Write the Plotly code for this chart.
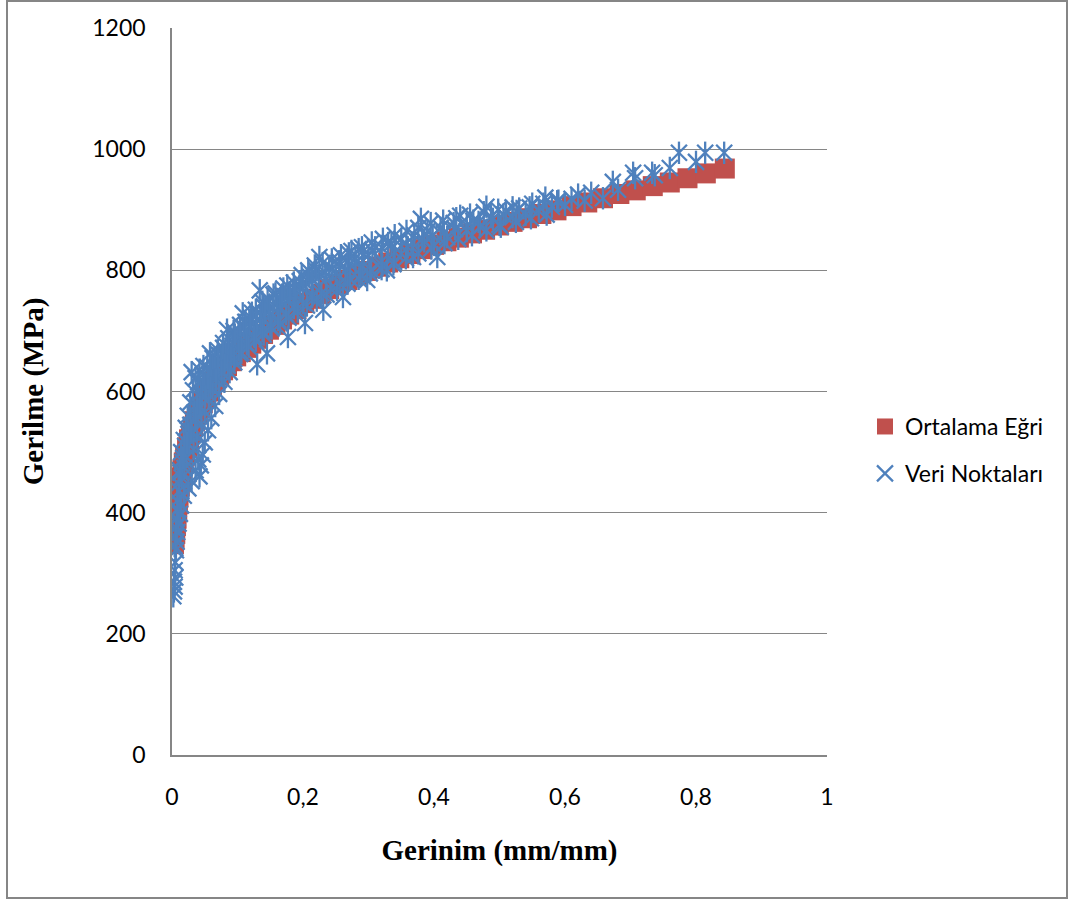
import plotly.graph_objects as go

# Ortalama Eğri (mean curve)
red_strain = [0.003,0.004,0.005,0.006,0.007,0.008,0.009,0.010,0.012,0.014,0.016,0.018,0.020,0.023,0.026,0.029,0.032,0.035,0.039,0.043,0.047,0.051,0.056,0.061,0.066,0.072,0.078,0.084,0.091,0.098,0.105,0.113,0.121,0.130,0.139,0.148,0.158,0.168,0.179,0.190,0.202,0.214,0.227,0.240,0.254,0.268,0.283,0.298,0.314,0.330,0.347,0.364,0.382,0.400,0.419,0.438,0.458,0.478,0.499,0.520,0.542,0.564,0.587,0.610,0.634,0.658,0.683,0.708,0.734,0.760,0.787,0.815,0.844]
red_stress = [348,356,365,378,390,402,414,425,443,458,471,483,494,508,521,532,542,551,562,572,581,590,600,609,617,626,635,642,650,658,665,672,679,687,695,702,710,719,727,736,746,753,761,769,777,784,792,799,806,813,820,827,835,842,848,854,861,867,874,880,886,893,899,906,912,919,926,932,939,945,952,960,968]

# Veri Noktaları (data points)
blue_strain = [0.002,0.003,0.004,0.003,0.005,0.004,0.005,0.006,0.004,0.007,0.005,0.008,0.006,0.010,0.007,0.012,0.009,0.014,0.008,0.018,
               0.011,0.025,0.010,0.030,0.015,0.042,0.013,0.036,0.019,0.044,0.016,0.040,0.022,0.047,0.014,0.033,0.026,0.050,0.018,0.038,
               0.030,0.055,0.021,0.045,0.035,0.060,0.024,0.050,0.040,0.066,0.028,0.056,0.046,0.072,0.032,0.062,0.052,0.080,0.036,0.030,
               0.042,0.068,0.058,0.088,0.048,0.075,0.058,0.065,0.095,0.070,0.083,0.104,0.078,0.092,0.084,0.100,0.115,0.094,0.108,0.110,
               0.125,0.118,0.130,0.122,0.134,0.136,0.145,0.140,0.150,0.155,0.160,0.165,0.170,0.177,0.178,0.185,0.190,0.195,0.200,0.203,
               0.210,0.215,0.220,0.225,0.231,0.235,0.240,0.250,0.255,0.261,0.265,0.270,0.280,0.285,0.290,0.298,0.300,0.310,0.320,0.328,
               0.330,0.340,0.350,0.360,0.368,0.370,0.380,0.385,0.390,0.400,0.405,0.410,0.420,0.430,0.440,0.450,0.460,0.470,0.480,0.490,
               0.500,0.510,0.520,0.530,0.540,0.550,0.560,0.570,0.580,0.590,0.600,0.620,0.630,0.640,0.658,0.673,0.681,0.704,0.707,0.733,
               0.737,0.760,0.774,0.800,0.814,0.843,
               0.020,0.025,0.028,0.034,0.038,0.044,0.050,0.055,0.060,0.065,0.070,0.076,0.082,0.088,0.094,0.100,0.106,0.112,0.118,0.124,
               0.130,0.136,0.142,0.148,0.154,0.160,0.165,0.172,0.180,0.188,0.196,0.205,0.214,0.224,0.234,0.245,0.256,0.268,0.280,0.293,
               0.306,0.320,0.335,0.350,0.366,0.382,0.398,0.415,0.432,0.450,0.468,0.487,0.506,0.526,0.546,0.567,0.588,0.610,
               0.012,0.017,0.023,0.029,0.036,0.043,0.051,0.059,0.067,0.076,0.085,0.095,0.106,0.117,0.128,0.140,0.152,0.165,0.178,0.192,
               0.206,0.221,0.236,0.252,0.268,0.285,0.302,0.320,0.338,0.357,0.376,0.396,0.416,0.437,0.458,0.480,0.502,0.525,0.548,0.572,
               0.040,0.047,0.054,0.062,0.070,0.078,0.086,0.096,0.104,0.112,0.120,0.128,0.138,0.146,0.158,0.168,0.176,0.186,0.198,0.208,
               0.218,0.230,0.244,0.258,0.274,0.290,0.305,0.322,0.340,0.358,0.376,0.395,0.414,0.434,0.455,0.476,0.498,0.520,
               0.080,0.090,0.102,0.114,0.126,0.138,0.150,0.162,0.174,0.186,0.200,0.214,0.228,0.242,0.256,0.272,0.288,0.304,0.321,0.339]
blue_stress = [262,270,278,286,293,305,318,338,345,352,360,368,375,382,390,398,405,412,420,428,
               436,440,448,452,458,460,466,470,474,478,484,488,492,496,500,505,512,516,520,526,
               532,536,540,546,552,556,560,566,572,576,582,588,592,596,602,606,612,616,622,632,
               636,626,630,632,642,645,663,650,648,668,660,662,680,675,702,688,678,700,729,705,
               692,718,645,730,767,712,663,740,725,760,745,735,770,690,752,765,745,782,770,713,
               790,760,800,822,735,785,805,795,815,756,800,828,812,835,805,784,825,838,815,800,
               845,830,852,838,822,858,885,848,865,842,822,870,855,878,890,865,882,872,905,885,
               875,898,888,902,892,910,898,920,905,915,908,925,915,928,919,946,933,961,952,961,
               957,969,994,979,994,994,
               510,530,545,565,580,598,612,622,632,640,646,655,664,672,680,686,694,700,706,712,
               718,724,729,734,739,744,752,757,762,768,773,778,784,790,796,802,808,814,820,826,
               832,838,844,840,846,852,858,862,868,874,880,888,892,898,904,910,914,918,
               470,490,515,535,556,575,592,606,620,632,643,654,664,674,684,694,704,712,722,732,
               742,750,760,768,778,786,795,802,810,820,828,836,845,852,858,866,872,880,886,892,
               615,628,640,655,662,672,688,694,710,715,722,735,748,752,762,760,775,780,792,800,
               808,812,818,825,832,838,846,852,858,865,870,878,882,886,892,896,900,904,
               644,656,668,678,690,700,708,718,728,738,746,756,762,770,778,786,792,800,808,814]

y_ticks = [0, 200, 400, 600, 800, 1000, 1200]
x_ticks = [0, 0.2, 0.4, 0.6, 0.8, 1]
x_tick_labels = ["0", "0,2", "0,4", "0,6", "0,8", "1"]

RED = "#C0504D"
BLUE = "#4F81BD"
GRAY = "#868686"
TICKFONT = dict(family="Lato", size=23, color="black")
TITLEFONT = dict(family="Liberation Serif", size=29, color="black")

fig = go.Figure()
fig.add_trace(go.Scatter(
    x=red_strain, y=red_stress, mode="markers", name="Ortalama Eğri",
    legendgroup="a",
    marker=dict(symbol="square", size=20, color=RED, line=dict(width=0)),
))
fig.add_trace(go.Scatter(
    x=blue_strain, y=blue_stress, mode="markers", name="Veri Noktaları",
    legendgroup="b",
    marker=dict(symbol="x-thin-open", size=16, color=BLUE, line=dict(width=2.3, color=BLUE)),
))
fig.add_trace(go.Scatter(
    x=blue_strain, y=blue_stress, mode="markers", name="Veri Noktaları",
    legendgroup="b", showlegend=False,
    marker=dict(symbol="line-ns-open", size=16, color=BLUE, line=dict(width=2.3, color=BLUE)),
))

fig.update_layout(
    width=1070, height=901,
    margin=dict(l=172, r=243, t=28, b=146),
    paper_bgcolor="white", plot_bgcolor="white",
    showlegend=True,
    legend=dict(x=1.058, y=0.4195, xanchor="left", yanchor="middle",
                font=dict(family="Lato", size=23, color="black"),
                tracegroupgap=14, itemwidth=30, bgcolor="rgba(0,0,0,0)"),
    xaxis=dict(range=[0, 1], tickvals=x_ticks, ticktext=x_tick_labels,
               showgrid=False, zeroline=False, showline=True, linecolor=GRAY, linewidth=1.5,
               ticks="", tickfont=TICKFONT, ticklabelstandoff=21,
               title=dict(text="<b>Gerinim (mm/mm)</b>", font=TITLEFONT, standoff=30)),
    yaxis=dict(range=[0, 1200], tickvals=y_ticks,
               showgrid=True, gridcolor=GRAY, gridwidth=1, zeroline=False,
               showline=True, linecolor=GRAY, linewidth=1.5,
               ticks="", tickfont=TICKFONT, ticklabelstandoff=20,
               title=dict(text="<b>Gerilme (MPa)</b>", font=TITLEFONT, standoff=40)),
    shapes=[dict(type="rect", xref="paper", yref="paper",
                 x0=(7 - 172) / 655, x1=(1067 - 172) / 655,
                 y0=(755 - 898) / 727, y1=(755 - 1) / 727,
                 line=dict(color=GRAY, width=2), fillcolor="rgba(0,0,0,0)", layer="below")],
)

fig.write_html("out.html")
